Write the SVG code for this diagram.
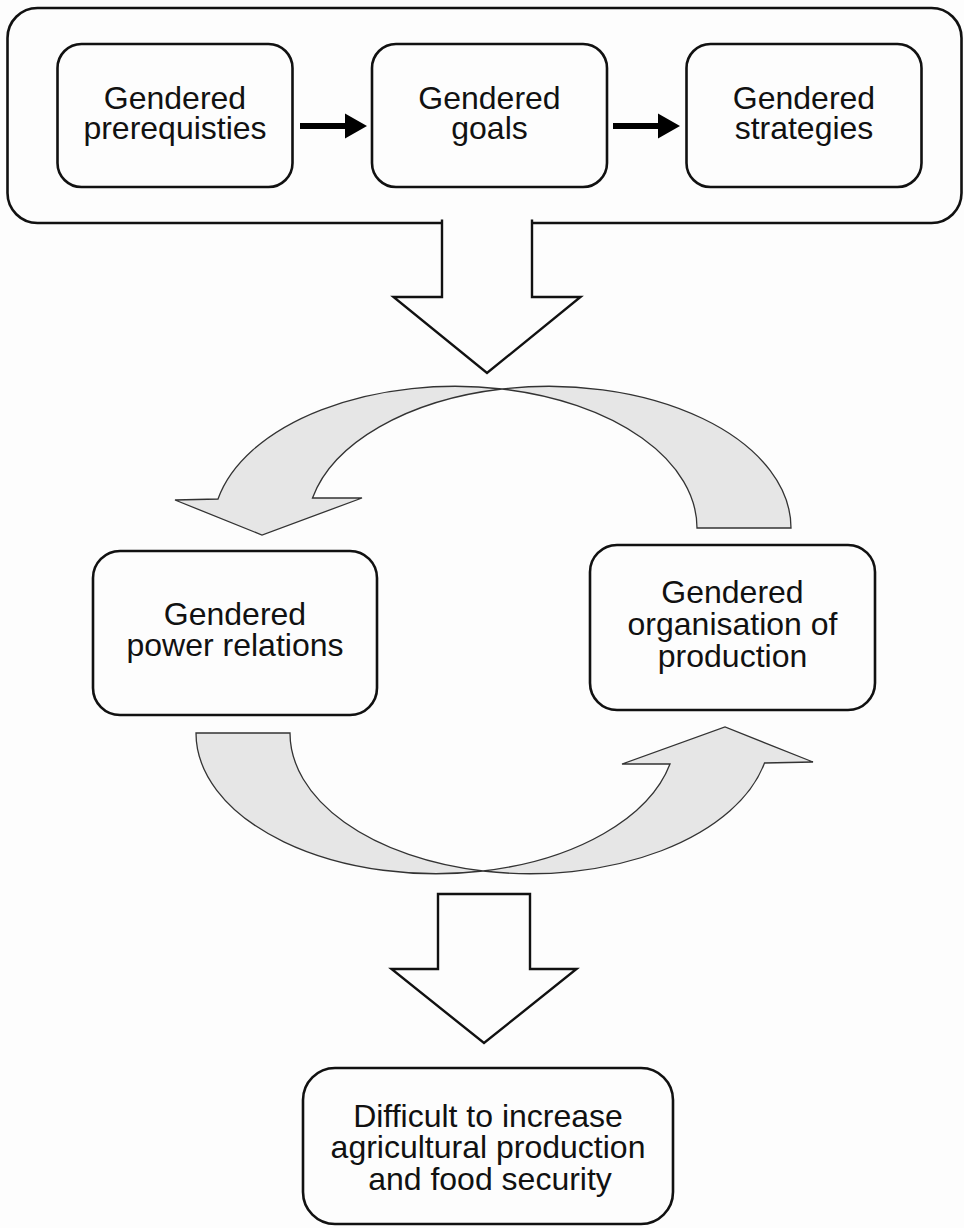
<svg xmlns="http://www.w3.org/2000/svg" xmlns:xlink="http://www.w3.org/1999/xlink" width="964" height="1228" viewBox="0 0 964 1228">
<style>
.box{fill:#fdfdfd;stroke:#111;stroke-width:2.6}
.lbl{font-family:"Liberation Sans",Arial,sans-serif;font-size:32px;fill:#111;text-anchor:middle}
.curve{fill:#e6e6e6;stroke:#333;stroke-width:1.3;stroke-linejoin:miter}
.hollow{fill:#fdfdfd;stroke:#111;stroke-width:2.4;stroke-linejoin:miter}
.blk{fill:#000}
</style>
<defs>
<path id="blackArrow" d="M0,-3 H45 V-12.5 L67,0 L45,12.5 V3 H0 Z"/>
</defs>
<rect x="0" y="0" width="964" height="1228" fill="#fdfdfd"/>

<g id="outer-box">
<rect class="box" x="7.5" y="8" width="954" height="215" rx="30" ry="30"/>
</g>

<g id="node-prerequisites">
<rect class="box" x="57.5" y="44" width="235" height="143" rx="24" ry="24"/>
<text class="lbl" x="175" y="109">Gendered<tspan x="175" dy="30">prerequisties</tspan></text>
</g>

<g id="node-goals">
<rect class="box" x="372" y="44" width="235" height="143" rx="24" ry="24"/>
<text class="lbl" x="489.5" y="109">Gendered<tspan x="489.5" dy="30">goals</tspan></text>
</g>

<g id="node-strategies">
<rect class="box" x="686.5" y="44" width="235" height="143" rx="24" ry="24"/>
<text class="lbl" x="804" y="109">Gendered<tspan x="804" dy="30">strategies</tspan></text>
</g>

<g id="node-power">
<rect class="box" x="93" y="551" width="284" height="164" rx="27" ry="27"/>
<text class="lbl" x="235" y="625">Gendered<tspan x="235" dy="31">power relations</tspan></text>
</g>

<g id="node-organisation">
<rect class="box" x="590" y="545" width="285" height="165" rx="27" ry="27"/>
<text class="lbl" x="732.5" y="603">Gendered<tspan x="732.5" dy="32">organisation of</tspan><tspan x="732.5" dy="32">production</tspan></text>
</g>

<g id="node-outcome">
<rect class="box" x="303" y="1068" width="370" height="156" rx="32" ry="32"/>
<text class="lbl" x="488" y="1127">Difficult to increase<tspan x="488" dy="31">agricultural production</tspan><tspan x="490" dy="32">and food security</tspan></text>
</g>

<g id="connectors">
<use xlink:href="#blackArrow" class="blk" transform="translate(300,126)"/>
<use xlink:href="#blackArrow" class="blk" transform="translate(613,126)"/>

<path class="hollow" d="M442,219.5 V297 H393.5 L487,373 L580.5,297 H532 V219.5"/>
<path class="hollow" d="M438,894 V969 H391.5 L484,1043 L576.5,969 H530 V894 Z"/>

<path class="curve" d="M502,389 A242,141.7 0 0 0 218,499 L175,500 L262,535 L362,498 L312.5,498 A242,141.7 0 0 1 502,389 Z"/>
<path class="curve" d="M502,389 A242,141.7 0 0 1 791,528 L697,528 A242,141.7 0 0 0 502,389 Z"/>

<path class="curve" d="M196,733 L290,733 A240,140.7 0 0 0 483,871 A240,140.7 0 0 1 196,733 Z"/>
<path class="curve" d="M483,871 A240,140.7 0 0 0 764.5,763 L813,762 L725,727 L622,764 L670,764 A240,140.7 0 0 1 483,871 Z"/>
</g>
</svg>
